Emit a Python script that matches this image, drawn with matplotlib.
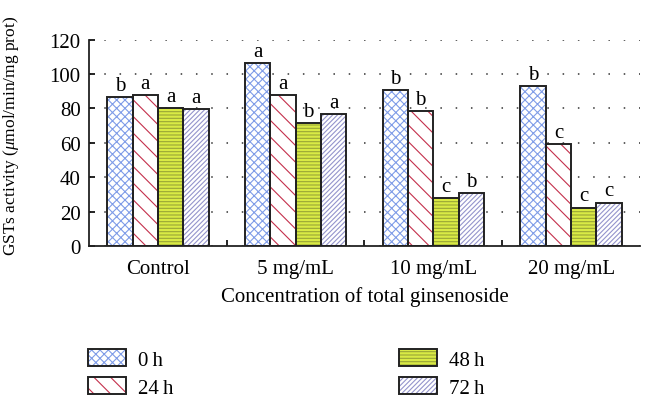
import numpy as np
import matplotlib
matplotlib.use('Agg')
import matplotlib.pyplot as plt
from matplotlib.patches import Patch

# Data
groups = ['Control', '5 mg/mL', '10 mg/mL', '20 mg/mL']
times = ['0\u2009h', '24\u2009h', '48\u2009h', '72\u2009h']
gst_0h = [86.8, 106.6, 90.7, 93.0]
gst_24h = [87.6, 87.6, 78.7, 59.3]
gst_48h = [80.1, 71.4, 28.1, 22.5]
gst_72h = [79.5, 76.6, 30.7, 25.4]
letters_0h = ['b', 'a', 'b', 'b']
letters_24h = ['a', 'a', 'b', 'c']
letters_48h = ['a', 'b', 'c', 'c']
letters_72h = ['a', 'a', 'b', 'c']

series = [gst_0h, gst_24h, gst_48h, gst_72h]
letters = [letters_0h, letters_24h, letters_48h, letters_72h]

# fill colour, hatch colour, hatch pattern per time point
styles = [
    ('white', '#7f9ce8', 'xxxx'),
    ('white', '#c4304c', '\\\\'),
    ('#d9ea45', '#9aa536', '-----'),
    ('white', '#9494cc', '///////'),
]

plt.rcParams['font.family'] = ['Liberation Serif', 'DejaVu Serif']
plt.rcParams['mathtext.fontset'] = 'custom'
plt.rcParams['mathtext.rm'] = 'Liberation Serif'
plt.rcParams['mathtext.it'] = 'Liberation Serif:italic'
plt.rcParams['hatch.linewidth'] = 0.8

fig = plt.figure(figsize=(6.53, 4.06), dpi=100)
ax = fig.add_axes([0.1363, 0.391, 0.8437, 0.509])

x = np.arange(len(groups))
width = 0.184
handles = []
for j, (vals, labs) in enumerate(zip(series, letters)):
    fc, hc, hatch = styles[j]
    pos = x + (j - 1.5) * width
    ax.bar(pos, vals, width, color=fc, edgecolor=hc, hatch=hatch, linewidth=0, zorder=2)
    ax.bar(pos, vals, width, fill=False, edgecolor='#222222', linewidth=1.4, zorder=3)
    for xp, v, lab in zip(pos, vals, labs):
        ax.text(xp, v + 1.2, lab, ha='center', va='bottom', fontsize=15)
    handles.append((Patch(facecolor=fc, edgecolor=hc, hatch=hatch, linewidth=0),
                    Patch(fill=False, edgecolor='#222222', linewidth=1.4)))

ax.set_xlim(-0.5, 3.5)
ax.set_ylim(0, 120)
ax.set_yticks(np.arange(0, 121, 20))
ax.set_xticks(x)
ax.set_xticklabels(groups, fontsize=15)
ax.set_xticks([0.5, 1.5, 2.5], minor=True)
ax.tick_params(axis='x', which='major', length=0, pad=9)
ax.tick_params(axis='x', which='minor', direction='in', length=4, width=1.2)
ax.tick_params(axis='y', direction='in', length=4, width=1.2, labelsize=15, pad=6)

for s in ['top', 'right']:
    ax.spines[s].set_visible(False)
for s in ['left', 'bottom']:
    ax.spines[s].set_linewidth(1.3)
    ax.spines[s].set_color('#222222')

ax.set_axisbelow(True)
ax.yaxis.grid(True, linestyle=(0, (1, 9)), color='#333333', linewidth=1.1)
ax.set_xlabel('Concentration of total ginsenoside', fontsize=15, labelpad=6)
ax.set_ylabel(r'GSTs activity ($\mu$mol/min/mg prot)', fontsize=12.5)
ax.yaxis.set_label_coords(-0.123, 0.54)

fig.legend(handles, times, ncol=2, loc='upper left', bbox_to_anchor=(0.106, 0.183),
           frameon=False, fontsize=15, handlelength=1.82, handleheight=0.85,
           handletextpad=0.6, labelspacing=0.35, columnspacing=10.8)

fig.savefig('out.png', dpi=100)
